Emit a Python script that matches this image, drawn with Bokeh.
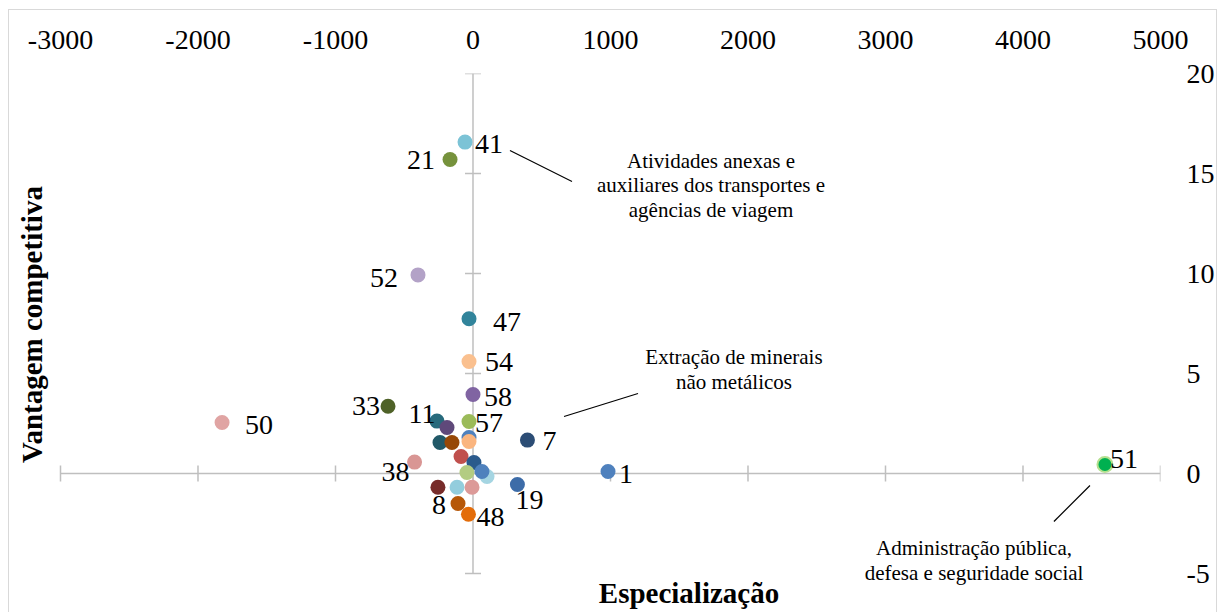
import math
from bokeh.plotting import figure
from bokeh.models import Range1d, FixedTicker
from bokeh.models import ColumnDataSource
from bokeh.core.properties import value
from bokeh.embed import file_html
from bokeh.resources import INLINE

# ---- data ----
x_ticks = [-3000, -2000, -1000, 0, 1000, 2000, 3000, 4000, 5000]
x_tick_labels = ["-3000", "-2000", "-1000", "0", "1000", "2000", "3000", "4000", "5000"]
y_ticks = [-5, 0, 5, 10, 15, 20]
y_tick_labels = ["-5", "0", "5", "10", "15", "20"]

especializacao = [-58, -167, -400, -29, -29, 0, -29, -618, -1825, -262, -189, 396, 982, 4596,
                  -425, 323, -240, -153, -29, -29, -87, 7, -44, 102, 65, -255, -116, -7, -109, -33]
vantagem = [16.57, 15.7, 9.93, 7.74, 5.6, 3.95, 2.6, 3.36, 2.55, 2.62, 2.3, 1.67, 0.10, 0.45,
            0.57, -0.55, 1.55, 1.55, 1.8, 1.6, 0.85, 0.55, 0.05, -0.15, 0.10, -0.69, -0.69, -0.69, -1.5, -2.04]
rotulos = ["41", "21", "52", "47", "54", "58", "57", "33", "50", "11", "", "7", "1", "51",
           "38", "19", "", "", "", "", "", "", "", "", "", "", "", "", "8", "48"]
cores = ["#7cc3d6", "#76923c", "#b3a2c7", "#31849b", "#fac08f", "#8064a2", "#9bbb59", "#4f6228",
         "#e0a4a3", "#276a7c", "#5f497a", "#2c4d75", "#4f81bd", "#00b050",
         "#d99694", "#3d6ca8", "#215968", "#974806", "#4f81bd", "#fab57f", "#c0504d", "#2a5a8c",
         "#b3cc82", "#a5d5e2", "#4f81bd", "#772c2a", "#93cddd", "#dc9a98", "#b65708", "#e36c09"]

# label offsets in pixels (layout only)
lab_dx = [24, -29, -34, 38, 30, 25, 20, -22, 37, -15, 0, 22, 18, 19,
          -19, 12, 0, 0, 0, 0, 0, 0, 0, 0, 0, 0, 0, 0, -19, 22]
lab_dy = [2, 0, 3, 3, 0, 2, 1, 0, 2, -7, 0, 1, 2, -6,
          10, 15, 0, 0, 0, 0, 0, 0, 0, 0, 0, 0, 0, 0, 1, 3]

notas = ["Atividades anexas e\nauxiliares dos transportes e\nagências de viagem",
         "Extração de minerais\nnão metálicos",
         "Administração pública,\ndefesa e seguridade social"]
notas_x = [1731, 1898, 3644]
notas_y = [14.4, 5.2, -4.36]
guia_x0 = [269, 662, 4487]
guia_y0 = [16.15, 2.85, -0.60]
guia_x1 = [720, 1200, 4225]
guia_y1 = [14.6, 4.0, -2.4]

titulo_x = "Especialização"
titulo_y = "Vantagem competitiva"

FONT = "Liberation Serif"
GRAY = "#bfbfbf"

p = figure(width=1209, height=603,
           x_range=Range1d(-3370.9, 5000), y_range=Range1d(-7.0, 20),
           x_axis_location="above", y_axis_location="right",
           output_backend="svg", toolbar_location=None,
           min_border_left=0, min_border_right=58, min_border_top=63, min_border_bottom=0)
p.grid.visible = False
p.outline_line_color = None
p.background_fill_color = "white"
p.border_fill_color = "white"
p.styles = {"margin-left": "8px", "margin-top": "9px",
            "border-left": "1px solid #d9d9d9", "border-top": "1px solid #d9d9d9",
            "border-right": "1px solid #d9d9d9"}

xa = p.xaxis[0]
xa.ticker = FixedTicker(ticks=x_ticks)
xa.major_label_overrides = dict(zip(x_ticks, x_tick_labels))
ya = p.yaxis[0]
ya.ticker = FixedTicker(ticks=y_ticks)
ya.major_label_overrides = dict(zip(y_ticks, y_tick_labels))
for ax, standoff in ((xa, 25), (ya, 26)):
    ax.axis_line_color = None
    ax.major_tick_line_color = None
    ax.minor_tick_line_color = None
    ax.major_tick_out = 0
    ax.major_tick_in = 0
    ax.major_label_standoff = standoff
    ax.major_label_text_font = FONT
    ax.major_label_text_font_size = "28px"
    ax.major_label_text_color = "black"

# axis lines through origin
p.segment(x0=[x_ticks[0], 0], y0=[0, y_ticks[0]], x1=[x_ticks[-1], 0], y1=[0, y_ticks[-1]],
          line_color=GRAY, line_width=1.5)
p.scatter(x=x_ticks, y=[0] * len(x_ticks), marker="dash", angle=math.pi / 2, size=16,
          line_color=GRAY, line_width=1.5)
p.scatter(x=[0] * len(y_ticks), y=y_ticks, marker="dash", size=16,
          line_color=GRAY, line_width=1.5)

# leader lines
p.segment(x0=guia_x0, y0=guia_y0, x1=guia_x1, y1=guia_y1, line_color="black", line_width=1.2)

# points
src = ColumnDataSource(dict(x=especializacao, y=vantagem, c=cores, t=rotulos, dx=lab_dx, dy=lab_dy))
src.data["lc"] = ["#b5e08f" if t == "51" else None for t in rotulos]
p.scatter("x", "y", source=src, size=15, fill_color="c", line_color="lc", line_width=2)
p.text("x", "y", text="t", x_offset="dx", y_offset="dy", source=src,
       text_font=value(FONT), text_font_size="28px", text_align="center",
       text_baseline="middle", text_color="black")

# annotation notes
p.text(x=notas_x, y=notas_y, text=notas, text_font=value(FONT), text_font_size="21px",
       text_align="center", text_baseline="middle", text_line_height=1.02, text_color="black")

# axis titles
p.text(x=[1571], y=[-5.95], text=[titulo_x], text_font=value(FONT), text_font_size="29px",
       text_font_style="bold", text_align="center", text_baseline="middle", text_color="black")
p.text(x=[-3210], y=[7.45], text=[titulo_y], text_font=value(FONT), text_font_size="29px",
       text_font_style="bold", text_align="center", text_baseline="middle", text_color="black",
       angle=math.pi / 2)

open("out.html", "w").write(file_html(p, INLINE))
